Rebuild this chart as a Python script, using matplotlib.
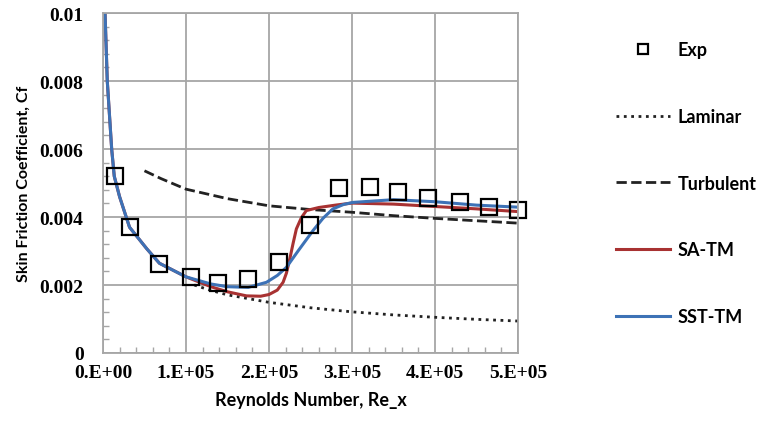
import numpy as np
import matplotlib
matplotlib.use("Agg")
import matplotlib.pyplot as plt
from matplotlib.ticker import MultipleLocator, FuncFormatter

# experimental points
exp_re = [1.4e4, 3.2e4, 6.8e4, 1.06e5, 1.38e5, 1.75e5, 2.12e5, 2.49e5, 2.84e5,
          3.22e5, 3.56e5, 3.92e5, 4.30e5, 4.65e5, 5.0e5]
exp_cf = [0.00521, 0.00371, 0.00262, 0.00224, 0.00206, 0.00218, 0.00267, 0.00376,
          0.00485, 0.00487, 0.00473, 0.00456, 0.00443, 0.00430, 0.00421]

# laminar and turbulent reference curves
lam_re = [1.1e5, 1.3e5, 1.5e5, 2e5, 2.5e5, 3e5, 3.5e5, 4e5, 4.5e5, 5e5]
lam_cf = [0.00200, 0.00184, 0.00171, 0.00149, 0.00133, 0.00121, 0.00112, 0.00105,
          0.00099, 0.00094]
turb_re = [5e4, 7e4, 1e5, 1.5e5, 2e5, 2.5e5, 3e5, 3.5e5, 4e5, 4.5e5, 5e5]
turb_cf = [0.00536, 0.00513, 0.00482, 0.00454, 0.00433, 0.00422, 0.00414, 0.00404,
           0.00396, 0.00389, 0.00382]

# transition model results
sa_re = [2e3, 2.5e3, 5.2e3, 1.05e4, 1.36e4, 2e4, 3.2e4, 5.3e4, 6.8e4, 1e5, 1.3e5, 1.5e5,
         1.73e5, 1.9e5, 2e5, 2.1e5, 2.17e5, 2.21e5, 2.25e5, 2.29e5, 2.33e5, 2.39e5, 2.45e5,
         2.6e5, 2.8e5, 3e5, 3.5e5, 4e5, 4.5e5, 5e5]
sa_cf = [0.0125, 0.0100, 0.0080, 0.0060, 0.0052, 0.0046, 0.0037, 0.00306, 0.00264, 0.00224,
         0.00195, 0.00180, 0.00168, 0.00167, 0.00172, 0.00185, 0.00208, 0.00235, 0.00276,
         0.00322, 0.00365, 0.00398, 0.00419, 0.00428, 0.00435, 0.00441, 0.00438, 0.00431,
         0.00424, 0.00416]
sst_re = [2e3, 2.5e3, 5.2e3, 1.05e4, 1.36e4, 2e4, 3.2e4, 5.3e4, 6.8e4, 1e5, 1.3e5, 1.5e5,
          1.75e5, 1.97e5, 2.1e5, 2.21e5, 2.35e5, 2.53e5, 2.65e5, 2.77e5, 2.9e5, 3.01e5,
          3.5e5, 4e5, 4.5e5, 5e5]
sst_cf = [0.0125, 0.0100, 0.0080, 0.0060, 0.0052, 0.0046, 0.0037, 0.00306, 0.00264, 0.00224,
          0.00203, 0.00195, 0.00193, 0.00208, 0.00228, 0.00252, 0.00300, 0.00360, 0.00396,
          0.00424, 0.00437, 0.00443, 0.00451, 0.00445, 0.00435, 0.00429]

fig = plt.figure(figsize=(7.61, 4.27), dpi=100)
ax = fig.add_axes([0.1353, 0.171, 0.5454, 0.796])

ax.plot(lam_re, lam_cf, color="#222222", linestyle=":", linewidth=2, label="Laminar")
ax.plot(turb_re, turb_cf, color="#222222", linestyle="--", linewidth=2, label="Turbulent")
ax.plot(sa_re, sa_cf, color="#a83232", linewidth=2.2, label="SA-TM")
ax.plot(sst_re, sst_cf, color="#3d72b6", linewidth=2.2, label="SST-TM")
ax.plot(exp_re, exp_cf, linestyle="none", marker="s", markersize=11, markerfacecolor="none",
        markeredgecolor="black", markeredgewidth=1.6, label="Exp", clip_on=False)

ax.set_xlim(0, 5e5)
ax.set_ylim(0, 0.01)
ax.xaxis.set_major_locator(MultipleLocator(1e5))
ax.xaxis.set_minor_locator(MultipleLocator(2e4))
ax.yaxis.set_major_locator(MultipleLocator(0.002))
ax.yaxis.set_minor_locator(MultipleLocator(0.0004))
ax.xaxis.set_major_formatter(FuncFormatter(lambda v, p: "%d.E+%02d" % (v / 1e5, 5) if v > 0 else "0.E+00"))
ax.yaxis.set_major_formatter(FuncFormatter(lambda v, p: "0" if v == 0 else ("%g" % round(v, 4))))

ax.grid(True, which="major", color="#a6a6a6", linewidth=1.3)
for s in ax.spines.values():
    s.set_color("#a6a6a6")
    s.set_linewidth(1.3)
ax.tick_params(which="major", length=0)
ax.tick_params(axis="x", which="major", pad=8)
ax.tick_params(axis="y", which="major", pad=14)
ax.tick_params(which="minor", direction="in", length=4, color="#a6a6a6", width=1)
for lab in ax.get_xticklabels() + ax.get_yticklabels():
    lab.set_fontfamily("Liberation Serif")
    lab.set_fontweight("bold")
    lab.set_fontsize(14)

ax.set_xlabel("Reynolds Number, Re_x", fontfamily="Lato", fontweight="bold", fontsize=13, labelpad=7)
ax.set_ylabel("Skin Friction Coefficient, Cf", fontfamily="Lato", fontweight="bold", fontsize=11.5, labelpad=6)

handles, labels = ax.get_legend_handles_labels()
order = [4, 0, 1, 2, 3]
leg = fig.legend([handles[i] for i in order], [labels[i] for i in order],
                 loc="center left", bbox_to_anchor=(0.797, 0.569), frameon=False,
                 borderpad=0, handlelength=3.0, handletextpad=0.45, labelspacing=2.75,
                 markerscale=0.65, prop={"family": "Lato", "weight": "bold", "size": 13})

fig.savefig("out.png", dpi=100)
